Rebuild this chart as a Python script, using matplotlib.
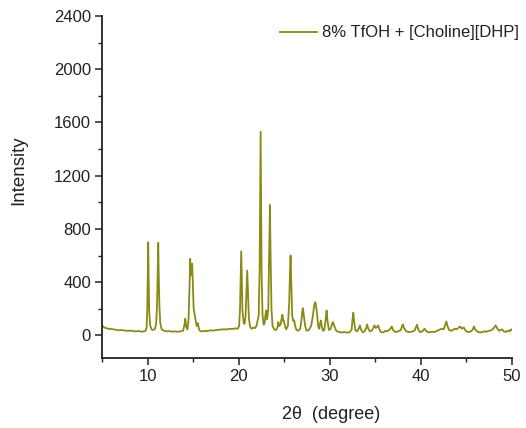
import matplotlib
matplotlib.use("Agg")
import matplotlib.pyplot as plt
from matplotlib.ticker import MultipleLocator

plt.rcParams['font.family'] = ['Liberation Sans', 'DejaVu Sans']

series_label = "8% TfOH + [Choline][DHP]"
x_label = "2\u03b8  (degree)"
y_label = "Intensity"

two_theta = [
    5.0, 5.2, 5.4, 5.6, 5.8, 6.0, 6.3, 6.6, 6.9, 7.2,
    7.5, 7.8, 8.1, 8.4, 8.7, 9.0, 9.3, 9.6, 9.8, 9.9,
    9.97, 10.02, 10.07, 10.12, 10.18, 10.3, 10.45, 10.6, 10.8, 10.95,
    11.05, 11.12, 11.17, 11.22, 11.3, 11.4, 11.55, 11.8, 12.1, 12.4,
    12.7, 13.0, 13.3, 13.6, 13.9, 14.05, 14.14, 14.25, 14.38, 14.5,
    14.6, 14.68, 14.76, 14.82, 14.9, 14.98, 15.06, 15.16, 15.28, 15.4,
    15.53, 15.65, 15.8, 16.0, 16.3, 16.6, 16.9, 17.2, 17.5, 17.8,
    18.1, 18.4, 18.7, 19.0, 19.3, 19.6, 19.9, 20.05, 20.15, 20.22,
    20.28, 20.34, 20.42, 20.55, 20.65, 20.75, 20.85, 20.94, 21.02, 21.12,
    21.25, 21.4, 21.6, 21.8, 21.95, 22.2, 22.3, 22.36, 22.41, 22.46,
    22.52, 22.62, 22.75, 22.85, 22.95, 23.03, 23.12, 23.25, 23.35, 23.43,
    23.5, 23.6, 23.72, 23.9, 24.1, 24.25, 24.35, 24.45, 24.6, 24.72,
    24.8, 24.87, 24.95, 25.05, 25.2, 25.4, 25.55, 25.63, 25.7, 25.77,
    25.87, 25.97, 26.1, 26.2, 26.35, 26.55, 26.75, 26.9, 27.0, 27.05,
    27.15, 27.3, 27.45, 27.7, 27.95, 28.15, 28.3, 28.41, 28.52, 28.62,
    28.72, 28.85, 28.95, 29.03, 29.12, 29.25, 29.4, 29.55, 29.65, 29.75,
    29.9, 30.1, 30.25, 30.35, 30.5, 30.7, 31.0, 31.3, 31.6, 31.9,
    32.2, 32.4, 32.5, 32.58, 32.67, 32.8, 33.0, 33.2, 33.3, 33.42,
    33.6, 33.8, 34.0, 34.1, 34.2, 34.4, 34.6, 34.8, 34.9, 35.05,
    35.2, 35.3, 35.45, 35.6, 35.9, 36.1, 36.3, 36.6, 36.8, 36.95,
    37.2, 37.5, 37.8, 37.95, 38.03, 38.15, 38.4, 38.7, 39.0, 39.3,
    39.45, 39.57, 39.7, 39.9, 40.15, 40.4, 40.6, 40.9, 41.2, 41.5,
    41.8, 42.1, 42.3, 42.5, 42.7, 42.8, 42.92, 43.1, 43.4, 43.7,
    43.9, 44.1, 44.3, 44.5, 44.7, 44.9, 45.2, 45.5, 45.7, 45.83,
    46.0, 46.3, 46.6, 46.9, 47.2, 47.5, 47.8, 48.0, 48.2, 48.4,
    48.6, 48.9, 49.1, 49.3, 49.5, 49.7, 49.9, 50.0,
]

intensity = [
    75, 62, 55, 52, 48, 50, 44, 42, 38, 40,
    36, 34, 36, 32, 30, 33, 28, 30, 35, 60,
    200, 450, 700, 430, 180, 70, 45, 40, 48, 90,
    250, 500, 695, 480, 220, 90, 45, 35, 30, 32,
    28, 30, 27, 30, 35, 80, 125, 60, 45, 120,
    350, 575, 450, 480, 538, 380, 200, 162, 110, 70,
    92, 45, 32, 30, 34, 33, 38, 36, 40, 42,
    44, 46, 44, 50, 48, 52, 50, 70, 200, 450,
    632, 420, 180, 95, 87, 140, 330, 487, 330, 130,
    65, 50, 58, 55, 70, 150, 500, 1100, 1530, 1050,
    450, 150, 80, 95, 160, 187, 120, 200, 650, 980,
    620, 200, 70, 45, 40, 60, 100, 70, 80, 130,
    155, 110, 112, 80, 45, 70, 250, 480, 600, 420,
    150, 110, 112, 70, 40, 35, 50, 120, 190, 205,
    150, 70, 35, 40, 70, 150, 230, 250, 210, 150,
    70, 50, 95, 112, 70, 35, 40, 120, 187, 110,
    40, 50, 85, 100, 70, 35, 25, 22, 25, 20,
    25, 45, 120, 170, 110, 40, 30, 55, 75, 45,
    25, 28, 55, 82, 55, 30, 35, 60, 75, 55,
    65, 75, 45, 25, 22, 35, 30, 45, 67, 40,
    25, 30, 40, 75, 82, 55, 30, 25, 28, 35,
    60, 80, 45, 25, 30, 50, 30, 22, 28, 25,
    35, 45, 50, 45, 85, 105, 70, 40, 35, 50,
    45, 55, 67, 50, 60, 35, 25, 30, 45, 67,
    40, 25, 22, 30, 28, 35, 40, 55, 75, 50,
    35, 45, 30, 25, 35, 30, 45, 40,
]

x_limits = (5, 50)
y_limits = (-170, 2400)

line_color = '#8a8a14'

fig = plt.figure(figsize=(5.26, 4.28), dpi=100)
ax = fig.add_axes([102 / 526, 1 - 358 / 428, 410 / 526, 342 / 428])

ax.plot(two_theta, intensity, color=line_color, lw=1.3, label=series_label)

ax.set_xlim(*x_limits)
ax.set_ylim(*y_limits)
ax.xaxis.set_major_locator(MultipleLocator(10))
ax.xaxis.set_minor_locator(MultipleLocator(5))
ax.yaxis.set_major_locator(MultipleLocator(400))
ax.yaxis.set_minor_locator(MultipleLocator(200))

for side in ('top', 'right'):
    ax.spines[side].set_visible(False)
for side in ('left', 'bottom'):
    ax.spines[side].set_linewidth(1.3)
    ax.spines[side].set_color('#222222')

ax.tick_params(which='major', direction='out', length=5, width=1.1,
               labelsize=12, colors='#222222', pad=3)
ax.tick_params(which='minor', direction='out', length=3, width=1.0,
               colors='#222222')

ax.set_xlabel(x_label, fontsize=13, color='#222222')
ax.xaxis.label.set_va('center')
ax.xaxis.set_label_coords(0.559, -0.166)
ax.set_ylabel(y_label, fontsize=13.5, color='#222222')
ax.yaxis.set_label_coords(-0.183, 0.55)

leg = ax.legend(loc='center left', bbox_to_anchor=(280 / 526, 1 - 33 / 428),
                bbox_transform=fig.transFigure, frameon=False, fontsize=12,
                handlelength=2.2, handletextpad=0.33, borderpad=0,
                borderaxespad=0)
for t in leg.get_texts():
    t.set_color('#222222')

fig.savefig('out.png', dpi=100)
